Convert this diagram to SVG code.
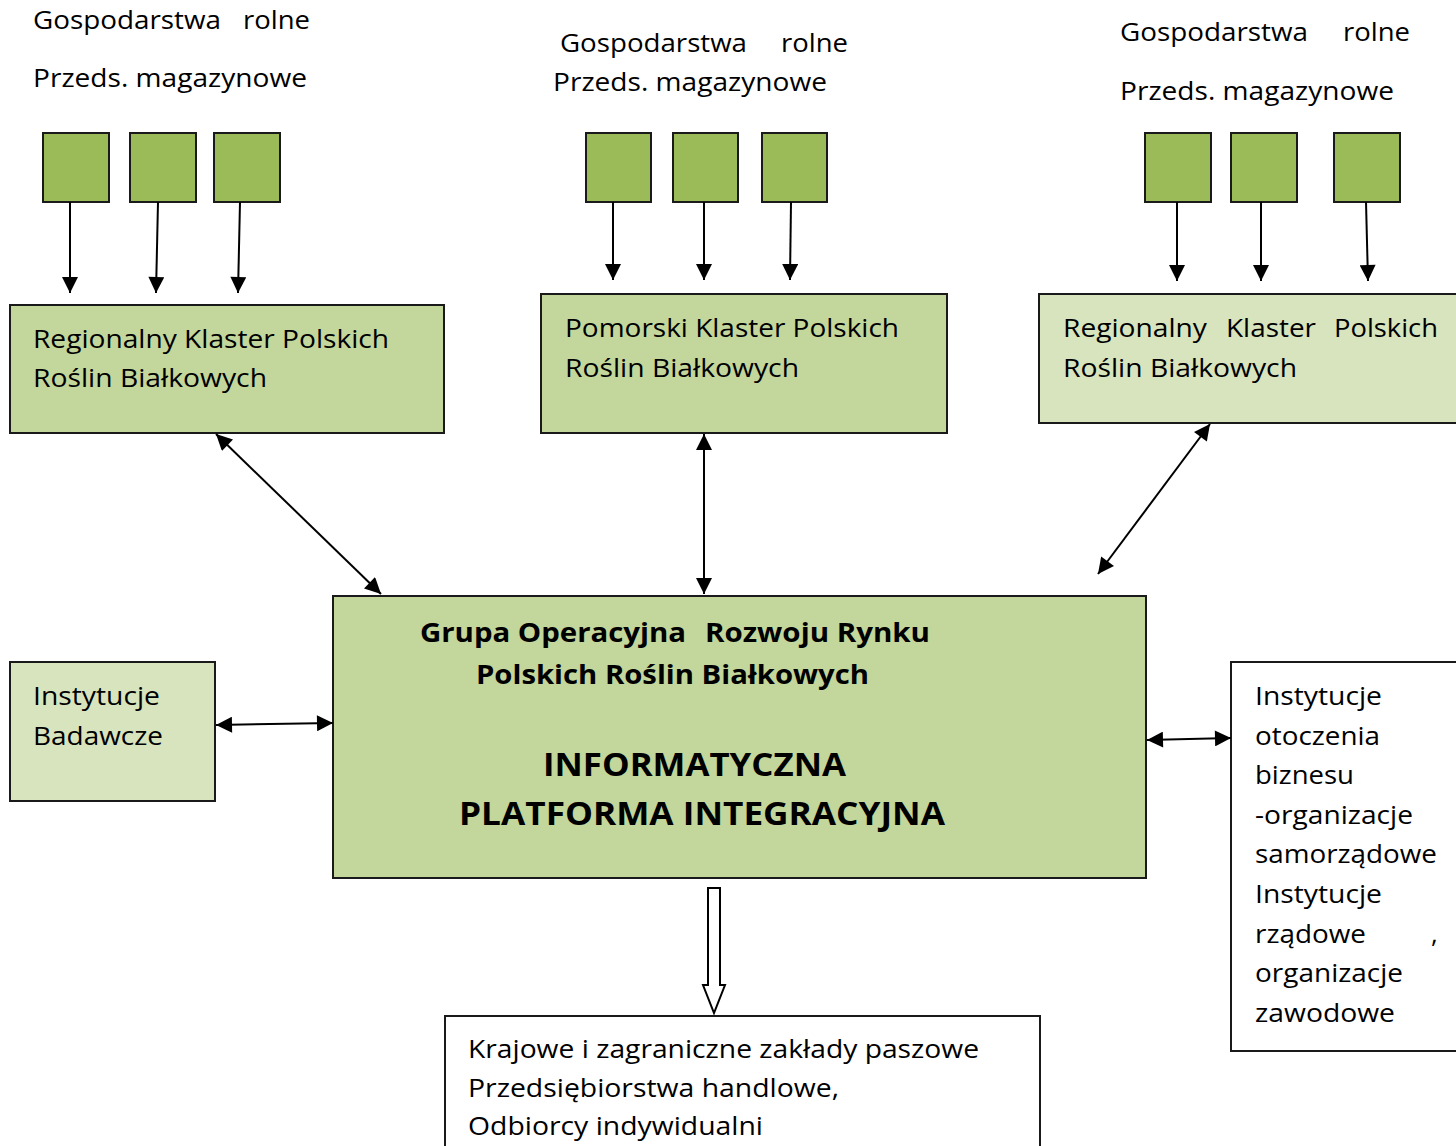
<svg xmlns="http://www.w3.org/2000/svg" width="1456" height="1146" viewBox="0 0 1456 1146">
<style>
.t{font-family:"Open Sans","Noto Sans","Liberation Sans",sans-serif;font-size:26px;fill:#000}
.b{font-family:"Open Sans","Noto Sans","Liberation Sans",sans-serif;font-size:27px;font-weight:bold;fill:#000}
.B{font-family:"Open Sans","Noto Sans","Liberation Sans",sans-serif;font-size:33px;font-weight:bold;fill:#000}
.sq{fill:#9BBB59;stroke:#1a1a1a;stroke-width:2}
.g1{fill:#C3D69B;stroke:#1a1a1a;stroke-width:2}
.g2{fill:#D7E4BD;stroke:#1a1a1a;stroke-width:2}
.w{fill:#fff;stroke:#1a1a1a;stroke-width:2}
.c{stroke:#000;stroke-width:2;fill:none}
</style>
<defs>
<marker id="ah" viewBox="0 0 10 10" refX="10" refY="5" markerWidth="17" markerHeight="16" markerUnits="userSpaceOnUse" orient="auto-start-reverse"><path d="M0,0 L10,5 L0,10 z" fill="#000"/></marker>
</defs>

<g id="labels-top">
<text class="t" x="33" y="29" textLength="188" lengthAdjust="spacingAndGlyphs">Gospodarstwa</text>
<text class="t" x="243" y="29" textLength="67" lengthAdjust="spacingAndGlyphs">rolne</text>
<text class="t" x="33" y="87" textLength="274" lengthAdjust="spacingAndGlyphs">Przeds. magazynowe</text>
<text class="t" x="560" y="52" textLength="187" lengthAdjust="spacingAndGlyphs">Gospodarstwa</text>
<text class="t" x="781" y="52" textLength="67" lengthAdjust="spacingAndGlyphs">rolne</text>
<text class="t" x="553" y="91" textLength="274" lengthAdjust="spacingAndGlyphs">Przeds. magazynowe</text>
<text class="t" x="1120" y="41" textLength="188" lengthAdjust="spacingAndGlyphs">Gospodarstwa</text>
<text class="t" x="1343" y="41" textLength="67" lengthAdjust="spacingAndGlyphs">rolne</text>
<text class="t" x="1120" y="100" textLength="274" lengthAdjust="spacingAndGlyphs">Przeds. magazynowe</text>
</g>

<g id="squares">
<rect class="sq" x="43" y="133" width="66" height="69"/>
<rect class="sq" x="130" y="133" width="66" height="69"/>
<rect class="sq" x="214" y="133" width="66" height="69"/>
<rect class="sq" x="586" y="133" width="65" height="69"/>
<rect class="sq" x="673" y="133" width="65" height="69"/>
<rect class="sq" x="762" y="133" width="65" height="69"/>
<rect class="sq" x="1145" y="133" width="66" height="69"/>
<rect class="sq" x="1231" y="133" width="66" height="69"/>
<rect class="sq" x="1334" y="133" width="66" height="69"/>
</g>

<g id="cluster-left">
<rect class="g1" x="10" y="305" width="434" height="128"/>
<text class="t" x="33" y="348" textLength="356" lengthAdjust="spacingAndGlyphs">Regionalny Klaster Polskich</text>
<text class="t" x="33" y="387" textLength="234" lengthAdjust="spacingAndGlyphs">Roślin Białkowych</text>
</g>

<g id="cluster-middle">
<rect class="g1" x="541" y="294" width="406" height="139"/>
<text class="t" x="565" y="337" textLength="334" lengthAdjust="spacingAndGlyphs">Pomorski Klaster Polskich</text>
<text class="t" x="565" y="377" textLength="234" lengthAdjust="spacingAndGlyphs">Roślin Białkowych</text>
</g>

<g id="cluster-right">
<rect class="g2" x="1039" y="294" width="430" height="129"/>
<text class="t" x="1063" y="337" textLength="144" lengthAdjust="spacingAndGlyphs">Regionalny</text>
<text class="t" x="1226" y="337" textLength="90" lengthAdjust="spacingAndGlyphs">Klaster</text>
<text class="t" x="1334" y="337" textLength="104" lengthAdjust="spacingAndGlyphs">Polskich</text>
<text class="t" x="1063" y="377" textLength="234" lengthAdjust="spacingAndGlyphs">Roślin Białkowych</text>
</g>

<g id="platform">
<rect class="g1" x="333" y="596" width="813" height="282"/>
<text class="b" x="420" y="642" textLength="266" lengthAdjust="spacingAndGlyphs">Grupa Operacyjna</text>
<text class="b" x="705" y="642" textLength="225" lengthAdjust="spacingAndGlyphs">Rozwoju Rynku</text>
<text class="b" x="476" y="684" textLength="393" lengthAdjust="spacingAndGlyphs">Polskich Roślin Białkowych</text>
<text class="B" x="543" y="776" textLength="303" lengthAdjust="spacingAndGlyphs">INFORMATYCZNA</text>
<text class="B" x="459" y="825" textLength="486" lengthAdjust="spacingAndGlyphs">PLATFORMA INTEGRACYJNA</text>
</g>

<g id="research">
<rect class="g2" x="10" y="662" width="205" height="139"/>
<text class="t" x="33" y="705" textLength="127" lengthAdjust="spacingAndGlyphs">Instytucje</text>
<text class="t" x="33" y="745" textLength="130" lengthAdjust="spacingAndGlyphs">Badawcze</text>
</g>

<g id="business">
<rect class="w" x="1231" y="662" width="240" height="389"/>
<text class="t" x="1255" y="705" textLength="127" lengthAdjust="spacingAndGlyphs">Instytucje</text>
<text class="t" x="1255" y="745" textLength="125" lengthAdjust="spacingAndGlyphs">otoczenia</text>
<text class="t" x="1255" y="784" textLength="99" lengthAdjust="spacingAndGlyphs">biznesu</text>
<text class="t" x="1255" y="824" textLength="158" lengthAdjust="spacingAndGlyphs">-organizacje</text>
<text class="t" x="1255" y="863" textLength="182" lengthAdjust="spacingAndGlyphs">samorządowe</text>
<text class="t" x="1255" y="903" textLength="127" lengthAdjust="spacingAndGlyphs">Instytucje</text>
<text class="t" x="1255" y="943" textLength="111" lengthAdjust="spacingAndGlyphs">rządowe</text>
<text class="t" x="1431" y="943">,</text>
<text class="t" x="1255" y="982" textLength="148" lengthAdjust="spacingAndGlyphs">organizacje</text>
<text class="t" x="1255" y="1022" textLength="140" lengthAdjust="spacingAndGlyphs">zawodowe</text>
</g>

<g id="recipients">
<rect class="w" x="445" y="1016" width="595" height="140"/>
<text class="t" x="468" y="1058" textLength="511" lengthAdjust="spacingAndGlyphs">Krajowe i zagraniczne zakłady paszowe</text>
<text class="t" x="468" y="1097" textLength="371" lengthAdjust="spacingAndGlyphs">Przedsiębiorstwa handlowe,</text>
<text class="t" x="468" y="1135" textLength="295" lengthAdjust="spacingAndGlyphs">Odbiorcy indywidualni</text>
</g>

<g id="connectors">
<line class="c" x1="70" y1="202" x2="70" y2="293" marker-end="url(#ah)"/>
<line class="c" x1="158" y1="202" x2="156" y2="293" marker-end="url(#ah)"/>
<line class="c" x1="240" y1="202" x2="238" y2="293" marker-end="url(#ah)"/>
<line class="c" x1="613" y1="202" x2="613" y2="280" marker-end="url(#ah)"/>
<line class="c" x1="704" y1="202" x2="704" y2="280" marker-end="url(#ah)"/>
<line class="c" x1="791" y1="202" x2="790" y2="280" marker-end="url(#ah)"/>
<line class="c" x1="1177" y1="202" x2="1177" y2="281" marker-end="url(#ah)"/>
<line class="c" x1="1261" y1="202" x2="1261" y2="281" marker-end="url(#ah)"/>
<line class="c" x1="1366" y1="202" x2="1368" y2="281" marker-end="url(#ah)"/>
<line class="c" x1="216" y1="434" x2="381" y2="594" marker-start="url(#ah)" marker-end="url(#ah)"/>
<line class="c" x1="704" y1="434" x2="704" y2="594" marker-start="url(#ah)" marker-end="url(#ah)"/>
<line class="c" x1="1210" y1="424" x2="1098" y2="574" marker-start="url(#ah)" marker-end="url(#ah)"/>
<line class="c" x1="216" y1="725" x2="333" y2="723" marker-start="url(#ah)" marker-end="url(#ah)"/>
<line class="c" x1="1147" y1="740" x2="1231" y2="738" marker-start="url(#ah)" marker-end="url(#ah)"/>
<path d="M708,888 L720,888 L720,985 L725,985 L714,1013 L703,985 L708,985 Z" fill="#fff" stroke="#000" stroke-width="2"/>
</g>
</svg>
